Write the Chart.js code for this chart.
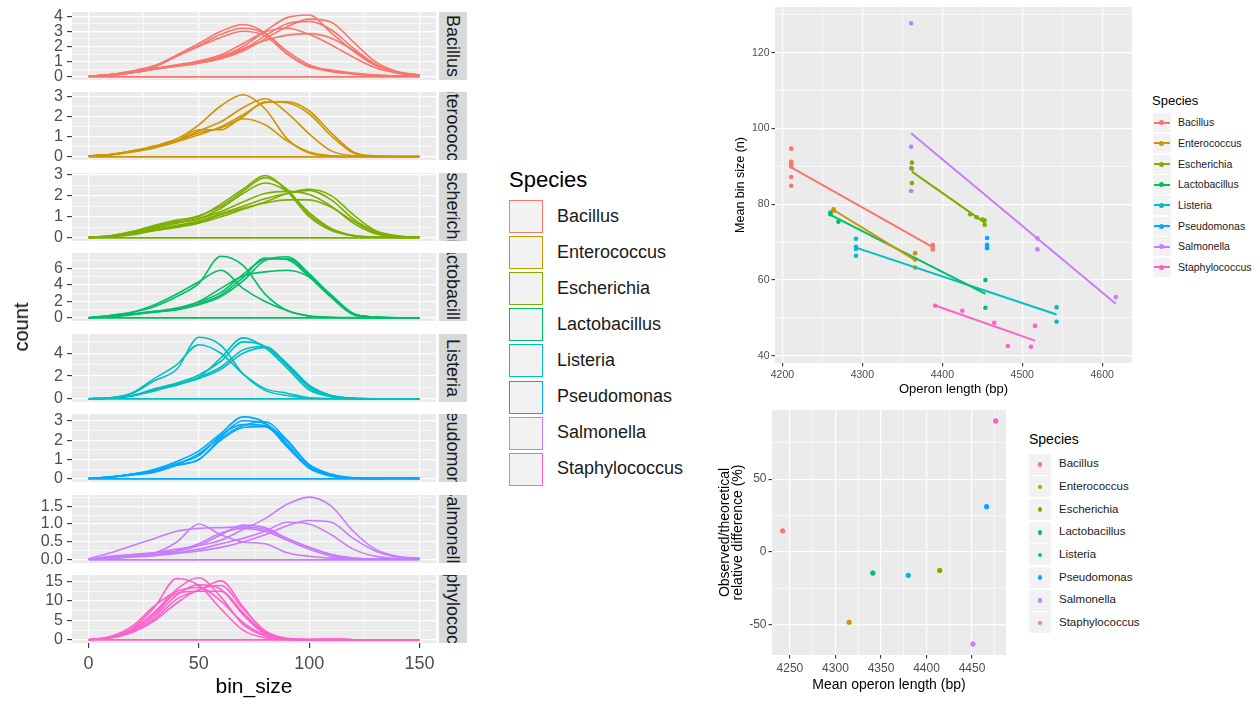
<!DOCTYPE html>
<html><head><meta charset="utf-8">
<script src="https://cdn.jsdelivr.net/npm/chart.js@4.4.0/dist/chart.umd.min.js"></script>
<style>
html,body{margin:0;padding:0;background:#fff;width:1259px;height:704px;overflow:hidden;font-family:"Liberation Sans",Arial,Helvetica,sans-serif;}
.abs{position:absolute;white-space:nowrap;}
canvas{position:absolute;}
.strip{position:absolute;background:#D9D9D9;overflow:hidden;}
.strip span{position:absolute;left:50%;top:50%;transform:translate(-50%,-50%) rotate(90deg);white-space:nowrap;font-size:18px;line-height:18px;color:#1A1A1A;}
</style></head><body>
<script>
// ---------------- DATA ----------------
const species = ['Bacillus','Enterococcus','Escherichia','Lactobacillus','Listeria','Pseudomonas','Salmonella','Staphylococcus'];
const speciesColors = ['#F8766D','#CD9600','#7CAE00','#00BE67','#00BFC4','#00A9FF','#C77CFF','#FF61CC'];

// density (count) curves sampled at bin_size = binX
const binX = [0,10,20,30,40,50,60,70,80,90,100,110,120,130,140,150];

const densBacillus = [
  [0.05,0.15,0.37,0.7,1.45,2.2,3.0,3.45,2.9,1.55,0.7,0.35,0.2,0.1,0.06,0.05],
  [0.05,0.15,0.35,0.65,1.35,2.05,2.8,3.2,2.85,1.7,0.8,0.4,0.2,0.1,0.06,0.05],
  [0.05,0.15,0.4,0.75,1.4,2.0,2.6,3.0,2.7,1.5,0.65,0.45,0.25,0.12,0.06,0.05],
  [0.05,0.12,0.3,0.55,0.75,0.95,1.3,2.0,3.0,3.9,4.07,2.9,1.7,0.75,0.3,0.12],
  [0.05,0.12,0.28,0.5,0.7,0.9,1.2,1.7,2.5,3.3,3.8,3.6,2.3,1.0,0.35,0.12],
  [0.05,0.12,0.3,0.55,0.8,1.05,1.45,2.2,2.95,3.2,2.8,2.1,1.3,0.6,0.25,0.1],
  [0.05,0.12,0.3,0.55,0.75,1.0,1.35,1.85,2.4,2.75,2.85,2.55,1.75,0.8,0.3,0.12],
  [0.05,0.12,0.28,0.5,0.7,0.92,1.25,1.8,2.7,3.5,3.65,3.1,1.9,0.85,0.3,0.1],
  [0,0,0,0,0,0,0,0,0,0,0,0,0,0,0,0]
];
const densEnterococcus = [
  [0.05,0.12,0.3,0.55,0.9,1.6,2.55,3.1,2.4,0.9,0.2,0.05,0.02,0.02,0.02,0.02],
  [0.05,0.12,0.3,0.5,0.8,1.35,1.35,1.9,1.6,0.8,0.25,0.06,0.02,0.02,0.02,0.02],
  [0.05,0.12,0.28,0.5,0.8,1.3,1.75,2.45,2.9,2.2,1.15,0.3,0.06,0.02,0.02,0.02],
  [0.05,0.12,0.28,0.5,0.8,1.2,1.45,2.0,2.75,2.7,2.15,1.05,0.2,0.04,0.02,0.02],
  [0.05,0.1,0.25,0.45,0.75,1.1,1.5,2.1,2.7,2.75,2.3,1.2,0.25,0.05,0.02,0.02],
  [0,0,0,0,0,0,0,0,0,0,0,0,0,0,0,0]
];
const densEscherichia = [
  [0.02,0.1,0.3,0.6,0.85,1.0,1.6,2.3,2.95,2.2,1.0,0.35,0.1,0.04,0.02,0.02],
  [0.02,0.1,0.3,0.5,0.8,1.05,1.5,2.2,2.85,2.3,1.1,0.4,0.1,0.04,0.02,0.02],
  [0.02,0.1,0.25,0.55,0.75,0.9,1.4,2.1,2.6,2.2,1.2,0.45,0.12,0.04,0.02,0.02],
  [0.02,0.08,0.2,0.4,0.6,0.8,1.15,1.5,1.85,2.1,2.25,1.8,0.9,0.3,0.08,0.03],
  [0.02,0.08,0.25,0.45,0.7,0.9,1.25,1.7,2.1,2.2,2.05,1.5,0.7,0.2,0.06,0.03],
  [0.02,0.08,0.2,0.35,0.55,0.75,1.1,1.4,1.65,1.8,1.8,1.45,0.8,0.25,0.07,0.03],
  [0.02,0.06,0.15,0.35,0.5,0.7,1.0,1.35,1.7,2.1,2.3,2.0,1.1,0.35,0.1,0.03],
  [0,0,0,0,0,0,0,0,0,0,0,0,0,0,0,0]
];
const densLactobacillus = [
  [0.02,0.3,0.7,1.4,2.6,4.2,7.5,6.4,2.9,0.9,0.25,0.08,0.03,0.02,0.02,0.02],
  [0.02,0.3,0.7,1.6,2.9,4.4,5.8,3.6,2.0,0.9,0.2,0.05,0.02,0.02,0.02,0.02],
  [0.02,0.2,0.5,0.8,1.0,1.7,2.8,4.9,7.3,7.1,5.0,2.5,0.4,0.08,0.02,0.02],
  [0.02,0.2,0.45,0.75,1.1,1.9,3.1,5.3,7.1,7.2,5.2,2.6,0.5,0.1,0.02,0.02],
  [0.02,0.2,0.45,0.8,1.2,2.0,3.6,5.1,5.6,5.8,5.0,2.8,0.55,0.1,0.02,0.02],
  [0.02,0.15,0.4,0.7,1.0,1.6,2.6,4.5,7.0,7.45,5.4,2.7,0.5,0.1,0.02,0.02],
  [0,0,0,0,0,0,0,0,0,0,0,0,0,0,0,0]
];
const densListeria = [
  [0.02,0.1,0.5,1.6,2.6,5.4,4.7,2.2,0.75,0.3,0.08,0.03,0.02,0.02,0.02,0.02],
  [0.02,0.1,0.55,1.8,3.0,4.75,4.0,2.2,0.9,0.5,0.1,0.03,0.02,0.02,0.02,0.02],
  [0.02,0.08,0.3,0.8,1.3,1.9,3.6,5.35,4.5,2.7,0.8,0.2,0.05,0.02,0.02,0.02],
  [0.02,0.08,0.3,0.9,1.4,2.1,3.3,5.0,4.6,2.9,1.0,0.25,0.05,0.02,0.02,0.02],
  [0.02,0.08,0.25,0.8,1.2,1.9,2.8,4.3,4.6,3.0,1.1,0.3,0.06,0.02,0.02,0.02],
  [0.02,0.08,0.3,0.7,1.25,1.8,2.6,4.0,4.5,3.1,1.2,0.3,0.06,0.02,0.02,0.02],
  [0,0,0,0,0,0,0,0,0,0,0,0,0,0,0,0]
];
const densPseudomonas = [
  [0.02,0.1,0.25,0.5,0.9,1.45,2.35,3.2,2.9,1.8,0.6,0.15,0.04,0.03,0.05,0.03],
  [0.02,0.1,0.25,0.45,0.75,1.3,2.2,3.0,2.85,1.95,0.7,0.2,0.05,0.03,0.04,0.03],
  [0.02,0.1,0.25,0.4,0.7,1.0,2.0,2.65,2.7,1.7,0.6,0.2,0.05,0.03,0.03,0.03],
  [0.02,0.1,0.2,0.35,0.7,1.0,2.1,2.75,2.95,2.0,0.75,0.25,0.06,0.03,0.03,0.03],
  [0.02,0.1,0.22,0.45,0.8,1.2,2.25,2.8,2.75,1.65,0.55,0.15,0.04,0.03,0.04,0.03],
  [0,0,0,0,0,0,0,0,0,0,0,0,0,0,0,0]
];
const densSalmonella = [
  [0.03,0.05,0.1,0.2,0.3,0.4,0.55,0.85,1.15,1.55,1.75,1.5,0.8,0.3,0.1,0.05],
  [0.02,0.04,0.08,0.12,0.18,0.25,0.35,0.5,0.7,0.95,1.1,1.05,0.6,0.25,0.08,0.04],
  [0.02,0.04,0.1,0.15,0.2,0.3,0.45,0.6,0.8,1.05,1.0,0.7,0.3,0.1,0.04,0.04],
  [0.02,0.1,0.15,0.2,0.5,1.0,0.7,0.5,0.45,0.2,0.1,0.05,0.03,0.02,0.02,0.02],
  [0.03,0.2,0.4,0.6,0.8,0.88,0.9,0.92,0.85,0.6,0.35,0.15,0.05,0.02,0.02,0.02],
  [0.02,0.08,0.15,0.2,0.25,0.4,0.7,0.97,0.9,0.6,0.35,0.15,0.05,0.02,0.02,0.02],
  [0.02,0.05,0.1,0.15,0.25,0.45,0.75,0.88,0.8,0.55,0.3,0.1,0.04,0.02,0.02,0.02],
  [0,0,0,0,0,0,0,0,0,0,0,0,0,0,0,0]
];
const densStaphylococcus = [
  [0.05,0.8,3.0,8.5,15.8,14.0,8.0,2.5,0.5,0.1,0.05,0.1,0.05,0.05,0.05,0.05],
  [0.05,0.6,2.6,7.2,13.0,16.0,11.0,4.0,1.0,0.2,0.05,0.08,0.05,0.05,0.05,0.05],
  [0.05,0.5,2.2,5.5,10.5,12.8,15.2,8.5,2.0,0.3,0.08,0.1,0.05,0.05,0.05,0.05],
  [0.05,0.6,2.5,6.2,11.5,14.2,13.0,6.5,1.5,0.25,0.06,0.1,0.05,0.05,0.05,0.05],
  [0.05,0.7,2.8,6.8,12.0,12.5,12.5,7.0,1.8,0.3,0.08,0.08,0.05,0.05,0.05,0.05],
  [0.05,0.9,3.6,8.8,12.5,13.5,10.0,4.5,1.2,0.2,0.05,0.08,0.05,0.05,0.05,0.05],
  [0.05,0.5,2.0,5.0,9.5,13.0,14.0,8.0,2.4,0.4,0.1,0.1,0.05,0.05,0.05,0.05],
  [0,0,0,0,0,0,0,0,0,0,0,0,0,0,0,0]
];

// operon length (bp) vs mean bin size (n)
const lenBacillus = [4211,4211,4211,4211,4211,4211,4388,4388,4388];
const binBacillus = [94.7,91.2,90.6,90.0,87.2,84.9,69.3,68.7,68.1];
const lenEnterococcus = [4264,4264,4366,4366,4366];
const binEnterococcus = [78.7,78.3,67.1,65.4,63.3];
const lenEscherichia = [4362,4362,4362,4435,4443,4450,4453,4453];
const binEscherichia = [91.0,89.4,85.6,77.4,76.6,76.0,75.8,74.6];
const lenLactobacillus = [4260,4260,4270,4454,4454];
const binLactobacillus = [77.8,77.4,75.4,60.0,52.7];
const lenListeria = [4292,4292,4292,4292,4543,4543];
const binListeria = [70.9,68.8,68.2,66.4,52.8,49.0];
const lenPseudomonas = [4456,4456,4456,4456];
const binPseudomonas = [71.1,69.3,68.8,68.4];
const lenSalmonella = [4361,4361,4361,4361,4519,4519,4617];
const binSalmonella = [127.8,95.2,89.6,83.5,71.0,68.1,55.5];
const lenStaphylococcus = [4391,4425,4465,4482,4511,4516];
const binStaphylococcus = [53.2,51.9,48.7,42.6,42.4,47.9];

// mean operon length vs observed/theoretical relative difference (%)
const meanOperonLength = [4242,4315,4414.5,4341,4380,4466,4451,4476];
const relDifference = [14.5,-48.3,-12.7,-14.5,-16.1,31.1,-63.3,90.0];

// tick labels
const facetXTicks = [0,50,100,150];
const facetYTicks = [[0,1,2,3,4],[0,1,2,3],[0,1,2,3],[0,2,4,6],[0,2,4],[0,1,2,3],[0,0.5,1,1.5],[0,5,10,15]];
const scatterXTicks = [4200,4300,4400,4500,4600];
const scatterYTicks = [40,60,80,100,120];
const diffXTicks = [4250,4300,4350,4400,4450];
const diffYTicks = [-50,0,50];

// ---------------- HELPERS ----------------
const FAMILY = "'Liberation Sans', Arial, Helvetica, sans-serif";
Chart.defaults.font.family = FAMILY;

function mkTicks(majors, min, max) {
  const step = majors[1] - majors[0];
  const out = majors.map(v => ({value: v, minor: false}));
  [majors[0] - step / 2, ...majors.map(v => v + step / 2)].forEach(v => {
    if (v > min && v < max) out.push({value: v, minor: true});
  });
  out.sort((a, b) => a.value - b.value);
  return out;
}
function decimals(arr) { return arr.some(v => Math.abs(v - Math.round(v)) > 1e-9) ? 1 : 0; }
function gridOpts(tickLen, drawTicks) {
  return {
    color: '#FFFFFF',
    lineWidth: c => (c.tick && c.tick.minor) ? 0.6 : 1.2,
    drawTicks: drawTicks,
    tickLength: tickLen,
    tickWidth: 1.1,
    tickColor: c => (c.tick && c.tick.minor) ? 'rgba(0,0,0,0)' : '#333333'
  };
}
function fixSize(prop, size) {
  return s => {
    s[prop] = size;
    s.paddingTop = 0; s.paddingBottom = 0; s.paddingLeft = 0; s.paddingRight = 0;
  };
}
const panelBg = {
  id: 'panelBg',
  beforeDraw(chart) {
    const {ctx, chartArea: a} = chart;
    ctx.save();
    ctx.fillStyle = '#EBEBEB';
    ctx.fillRect(a.left, a.top, a.right - a.left, a.bottom - a.top);
    ctx.restore();
  }
};
function makeCanvas(left, top, w, h) {
  const c = document.createElement('canvas');
  c.width = w; c.height = h;
  c.style.left = left + 'px'; c.style.top = top + 'px';
  c.style.width = w + 'px'; c.style.height = h + 'px';
  document.body.appendChild(c);
  return c;
}
function addText(txt, left, cy, size, color) {
  const d = document.createElement('div');
  d.className = 'abs';
  d.textContent = txt;
  d.style.left = left + 'px';
  d.style.top = (cy - size * 0.6) + 'px';
  d.style.fontSize = size + 'px';
  d.style.lineHeight = (size * 1.2) + 'px';
  d.style.color = color;
  document.body.appendChild(d);
  return d;
}
function addBox(left, top, w, h, css) {
  const d = document.createElement('div');
  d.className = 'abs';
  d.style.cssText += `left:${left}px;top:${top}px;width:${w}px;height:${h}px;${css}`;
  document.body.appendChild(d);
  return d;
}
const baseOpts = {
  responsive: false, animation: false, events: [],
  plugins: {legend: {display: false}, tooltip: {enabled: false}}
};

// ---------------- LEFT: faceted density curves ----------------
const facetCurves = [densBacillus, densEnterococcus, densEscherichia, densLactobacillus,
                     densListeria, densPseudomonas, densSalmonella, densStaphylococcus];
const facetYMax = [4.27, 3.234, 3.07, 7.9, 5.69, 3.35, 1.81, 16.7];
const F_TOP = 12, F_STEP = 80.43, F_H = 68, F_AXIS_W = 72, F_RIGHT = 436, F_PAD = 10;
const X_MIN = -7.5, X_MAX = 157.5;

species.forEach((sp, i) => {
  const last = i === species.length - 1;
  const top = Math.round(F_TOP + i * F_STEP);
  const padBottom = last ? 0 : F_PAD;
  const h = F_PAD + F_H + (last ? 58 : padBottom);
  const canvas = makeCanvas(0, top - F_PAD, F_RIGHT, h);
  const yMax = facetYMax[i], yMin = -yMax * 0.05 / 1.05;
  const yDec = decimals(facetYTicks[i]);
  new Chart(canvas, {
    type: 'line',
    data: {
      datasets: facetCurves[i].map(arr => ({
        data: binX.map((x, k) => ({x: x, y: arr[k]})),
        borderColor: speciesColors[i], borderWidth: 1.6,
        pointRadius: 0, fill: false, cubicInterpolationMode: 'monotone'
      }))
    },
    options: Object.assign({}, baseOpts, {
      layout: {padding: {top: F_PAD, bottom: padBottom, left: 0, right: 0}, autoPadding: false},
      scales: {
        x: {
          type: 'linear', min: X_MIN, max: X_MAX,
          afterBuildTicks: s => { s.ticks = mkTicks(facetXTicks, X_MIN, X_MAX); },
          afterFit: fixSize('height', last ? 58 : 0),
          grid: gridOpts(5, last),
          border: {display: false},
          ticks: {
            display: last, autoSkip: false, maxRotation: 0, padding: 5,
            color: '#4D4D4D', font: {size: 18},
            callback: (v, idx, t) => t[idx].minor ? '' : String(v)
          },
          title: {display: last, text: 'bin_size', color: '#000000', font: {size: 21}, padding: {top: 0, bottom: 1}}
        },
        y: {
          type: 'linear', min: yMin, max: yMax,
          afterBuildTicks: s => { s.ticks = mkTicks(facetYTicks[i], yMin, yMax); },
          afterFit: fixSize('width', F_AXIS_W),
          grid: gridOpts(5, true),
          border: {display: false},
          ticks: {
            autoSkip: false, padding: 4, color: '#4D4D4D', font: {size: 16},
            callback: (v, idx, t) => t[idx].minor ? '' : v.toFixed(yDec)
          }
        }
      }
    }),
    plugins: [panelBg]
  });
  // facet strip
  const st = addBox(439, top, 28, F_H, 'background:#D9D9D9;overflow:hidden;');
  st.className = 'strip';
  const sp2 = document.createElement('span');
  sp2.textContent = sp;
  st.appendChild(sp2);
});

// "count" axis title
(function () {
  const d = document.createElement('div');
  d.className = 'abs';
  d.textContent = 'count';
  d.style.cssText += 'left:21px;top:327px;font-size:20px;line-height:20px;color:#000;transform:translate(-50%,-50%) rotate(-90deg);';
  document.body.appendChild(d);
})();

// middle legend (fill keys)
addText('Species', 509, 180, 22, '#000000');
species.forEach((sp, i) => {
  const t = 200 + i * 36.1;
  addBox(509, t, 34, 33, `box-sizing:border-box;border:1.6px solid ${speciesColors[i]};background:#F2F2F2;`);
  addText(sp, 557, t + 16.5, 18, '#1A1A1A');
});

// ---------------- TOP RIGHT: operon length vs mean bin size ----------------
const opLenGroups = [lenBacillus, lenEnterococcus, lenEscherichia, lenLactobacillus, lenListeria, lenPseudomonas, lenSalmonella, lenStaphylococcus];
const binGroups = [binBacillus, binEnterococcus, binEscherichia, binLactobacillus, binListeria, binPseudomonas, binSalmonella, binStaphylococcus];
function linFit(xs, ys) {
  const n = xs.length, mx = xs.reduce((a, b) => a + b, 0) / n, my = ys.reduce((a, b) => a + b, 0) / n;
  let sxy = 0, sxx = 0;
  xs.forEach((x, k) => { sxy += (x - mx) * (ys[k] - my); sxx += (x - mx) * (x - mx); });
  if (sxx === 0) return null;
  const b = sxy / sxx, a = my - b * mx;
  const x0 = Math.min(...xs), x1 = Math.max(...xs);
  return [{x: x0, y: a + b * x0}, {x: x1, y: a + b * x1}];
}
(function () {
  const XMIN = 4190.7, XMAX = 4637.3, YMIN = 38.1, YMAX = 132.1;
  const lineSets = [], pointSets = [];
  species.forEach((sp, i) => {
    const xs = opLenGroups[i], ys = binGroups[i];
    pointSets.push({type: 'scatter', data: xs.map((x, k) => ({x: x, y: ys[k]})),
      backgroundColor: speciesColors[i], borderWidth: 0, pointRadius: 2.3, showLine: false});
    const fit = linFit(xs, ys);
    if (fit) lineSets.push({type: 'line', data: fit, borderColor: speciesColors[i], borderWidth: 2,
      pointRadius: 0, fill: false, tension: 0});
  });
  const canvas = makeCanvas(700, 0, 432, 400);
  new Chart(canvas, {
    type: 'scatter',
    data: {datasets: lineSets.concat(pointSets)},
    options: Object.assign({}, baseOpts, {
      layout: {padding: {top: 7, right: 0, left: 0, bottom: 0}, autoPadding: false},
      scales: {
        x: {
          type: 'linear', min: XMIN, max: XMAX,
          afterBuildTicks: s => { s.ticks = mkTicks(scatterXTicks, XMIN, XMAX); },
          afterFit: fixSize('height', 37),
          grid: gridOpts(3.5, true), border: {display: false},
          ticks: {autoSkip: false, maxRotation: 0, padding: 2, color: '#4D4D4D', font: {size: 10.5},
            callback: (v, idx, t) => t[idx].minor ? '' : String(v)},
          title: {display: true, text: 'Operon length (bp)', color: '#000000', font: {size: 13}, padding: {top: 0, bottom: 3}}
        },
        y: {
          type: 'linear', min: YMIN, max: YMAX,
          afterBuildTicks: s => { s.ticks = mkTicks(scatterYTicks, YMIN, YMAX); },
          afterFit: fixSize('width', 75),
          grid: gridOpts(3.5, true), border: {display: false},
          ticks: {autoSkip: false, padding: 2, color: '#4D4D4D', font: {size: 10.5},
            callback: (v, idx, t) => t[idx].minor ? '' : String(v)},
          title: {display: true, text: 'Mean bin size (n)', color: '#000000', font: {size: 12.5}, padding: {top: 33.5, bottom: 0}}
        }
      }
    }),
    plugins: [panelBg]
  });
  // legend
  addText('Species', 1152, 101, 13, '#000000');
  species.forEach((sp, i) => {
    const cy = 122.7 + i * 20.67;
    addBox(1152.5, cy - 9.5, 18, 19, 'background:#F2F2F2;');
    addBox(1154, cy - 1, 15.5, 2, `background:${speciesColors[i]};`);
    addBox(1159.2, cy - 2.5, 5, 5, `background:${speciesColors[i]};border-radius:50%;`);
    addText(sp, 1178, cy, 10.5, '#1A1A1A');
  });
})();

// ---------------- BOTTOM RIGHT: mean operon length vs relative difference ----------------
(function () {
  const XMIN = 4230.3, XMAX = 4487.3, YMIN = -70.8, YMAX = 97.5;
  const canvas = makeCanvas(700, 400, 306, 304);
  new Chart(canvas, {
    type: 'scatter',
    data: {
      datasets: species.map((sp, i) => ({
        data: [{x: meanOperonLength[i], y: relDifference[i]}],
        backgroundColor: speciesColors[i], borderWidth: 0, pointRadius: 2.6
      }))
    },
    options: Object.assign({}, baseOpts, {
      layout: {padding: {top: 10, right: 0, left: 0, bottom: 0}, autoPadding: false},
      scales: {
        x: {
          type: 'linear', min: XMIN, max: XMAX,
          afterBuildTicks: s => { s.ticks = mkTicks(diffXTicks, XMIN, XMAX); },
          afterFit: fixSize('height', 49),
          grid: gridOpts(3.5, true), border: {display: false},
          ticks: {autoSkip: false, maxRotation: 0, padding: 3, color: '#4D4D4D', font: {size: 12},
            callback: (v, idx, t) => t[idx].minor ? '' : String(v)},
          title: {display: true, text: 'Mean operon length (bp)', color: '#000000', font: {size: 14}, padding: {top: 0, bottom: 10}}
        },
        y: {
          type: 'linear', min: YMIN, max: YMAX,
          afterBuildTicks: s => { s.ticks = mkTicks(diffYTicks, YMIN, YMAX); },
          afterFit: fixSize('width', 72),
          grid: gridOpts(3.5, true), border: {display: false},
          ticks: {autoSkip: false, padding: 2, color: '#4D4D4D', font: {size: 12},
            callback: (v, idx, t) => t[idx].minor ? '' : String(v)},
          title: {display: true, text: ['Observed/theoretical', 'relative difference (%)'], color: '#000000',
            font: {size: 14, lineHeight: 0.95}, padding: {top: 18.3, bottom: 0}}
        }
      }
    }),
    plugins: [panelBg]
  });
  addText('Species', 1029, 439, 14, '#000000');
  species.forEach((sp, i) => {
    const cy = 464.3 + i * 22.67;
    addBox(1029, cy - 10.5, 22, 21, 'background:#F2F2F2;');
    addBox(1037.7, cy - 2.3, 4.6, 4.6, `background:${speciesColors[i]};border-radius:50%;`);
    addText(sp, 1059, cy, 11.5, '#1A1A1A');
  });
})();
</script>
</body></html>
